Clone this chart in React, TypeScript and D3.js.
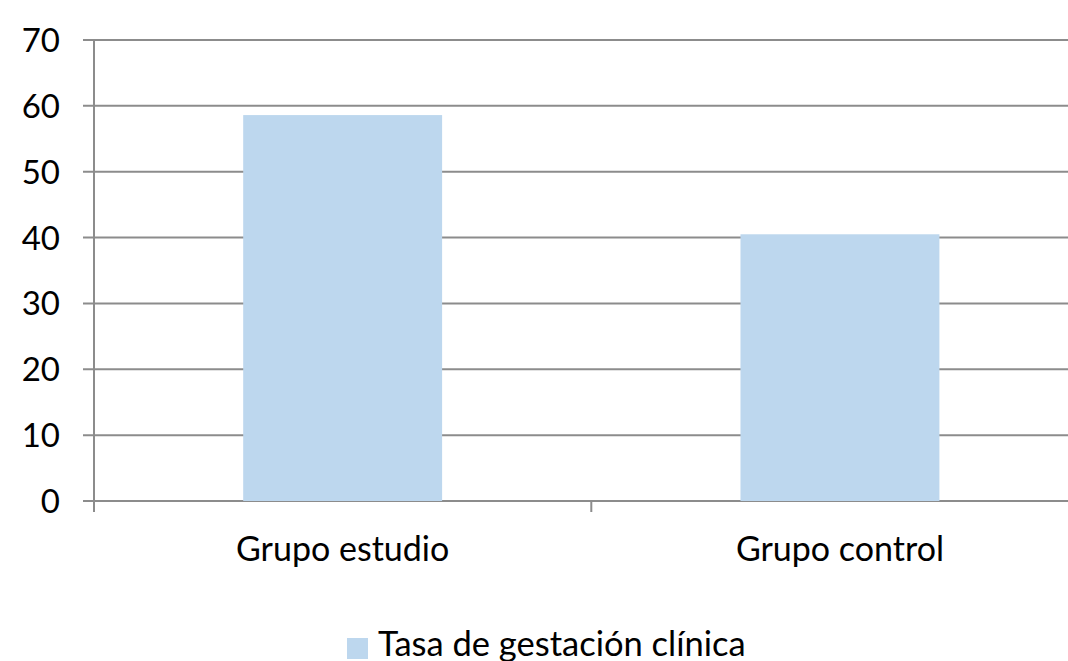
import React, { useEffect, useRef } from "react";
import * as d3 from "d3";

const categories = ["Grupo estudio", "Grupo control"];
const values = [58.6, 40.5];
const yTicks = [0, 10, 20, 30, 40, 50, 60, 70];
const seriesName = "Tasa de gestación clínica";

export default function App() {
  const ref = useRef<SVGSVGElement>(null);

  useEffect(() => {
    const width = 1068;
    const height = 661;
    const left = 94;
    const top = 40;
    const bottom = 501;
    const step = 497.3;
    const font = "Lato, 'Open Sans', sans-serif";
    const gridColor = "#8c8c8c";
    const barColor = "#bdd7ee";

    const svg = d3.select(ref.current);
    svg.selectAll("*").remove();
    svg.attr("width", width).attr("height", height);

    const x = d3.scaleBand<string>()
      .domain(categories)
      .range([left, left + step * categories.length])
      .paddingInner(0.6)
      .paddingOuter(0.3);
    const y = d3.scaleLinear().domain([0, 70]).range([bottom, top]);

    // gridlines
    svg.append("g")
      .selectAll("line")
      .data(yTicks)
      .join("line")
      .attr("x1", left - 11)
      .attr("x2", width)
      .attr("y1", (d) => y(d))
      .attr("y2", (d) => y(d))
      .attr("stroke", gridColor)
      .attr("stroke-width", 2);

    // bars
    svg.append("g")
      .selectAll("rect")
      .data(values)
      .join("rect")
      .attr("x", (_, i) => x(categories[i])!)
      .attr("y", (d) => y(d))
      .attr("width", x.bandwidth())
      .attr("height", (d) => y(0) - y(d))
      .attr("fill", barColor);

    // y axis line
    svg.append("line")
      .attr("x1", left).attr("x2", left)
      .attr("y1", top).attr("y2", bottom + 11)
      .attr("stroke", gridColor).attr("stroke-width", 2);

    // category ticks
    const bounds = [left, left + step, left + 2 * step];
    svg.append("g")
      .selectAll("line")
      .data(bounds.slice(1))
      .join("line")
      .attr("x1", (d) => d).attr("x2", (d) => d)
      .attr("y1", bottom).attr("y2", bottom + 11)
      .attr("stroke", gridColor).attr("stroke-width", 2);

    // y labels
    svg.append("g")
      .selectAll("text")
      .data(yTicks)
      .join("text")
      .attr("x", 60)
      .attr("y", (d) => y(d) + 12)
      .attr("text-anchor", "end")
      .attr("font-family", font)
      .attr("font-size", 33)
      .attr("fill", "#000")
      .text((d) => d);

    // category labels
    svg.append("g")
      .selectAll("text")
      .data(categories)
      .join("text")
      .attr("x", (d) => x(d)! + x.bandwidth() / 2)
      .attr("y", 561)
      .attr("text-anchor", "middle")
      .attr("font-family", font)
      .attr("font-size", 34)
      .attr("fill", "#000")
      .text((d) => d);

    // legend
    const legend = svg.append("g");
    legend.append("rect")
      .attr("x", 347).attr("y", 638)
      .attr("width", 21).attr("height", 21)
      .attr("fill", barColor);
    legend.append("text")
      .attr("x", 378).attr("y", 656)
      .attr("font-family", font)
      .attr("font-size", 34.5)
      .attr("fill", "#000")
      .text(seriesName);
  }, []);

  return (
    <svg ref={ref} style={{ position: "absolute", left: 0, top: 0, display: "block" }} />
  );
}
